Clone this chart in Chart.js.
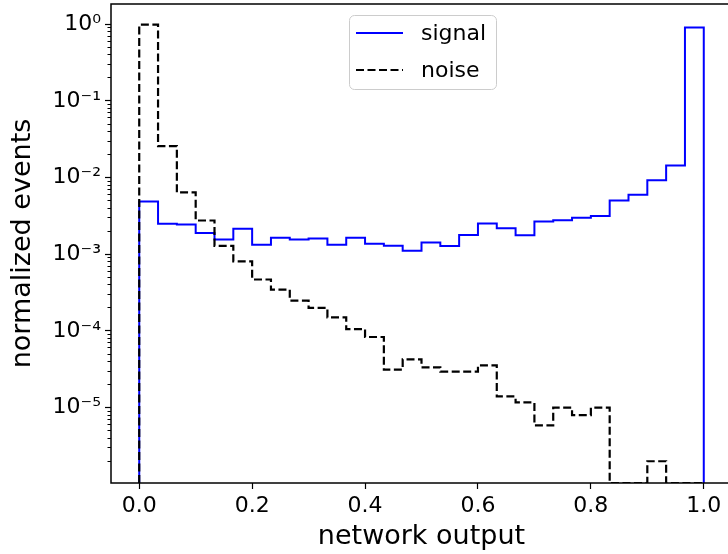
<!DOCTYPE html>
<html>
<head>
<meta charset="utf-8">
<script src="https://cdn.jsdelivr.net/npm/chart.js@4/dist/chart.umd.min.js"></script>
<style>
    body { margin: 0; background: #fff; overflow: hidden; width: 728px; height: 554px; }
    #wrap { width: 740px; height: 554px; }
</style>
</head>
<body>
<div id="wrap"><canvas id="histChart"></canvas></div>
<script>
// histogram contents, 30 bins over [0, 1]
var binCount = 30;
var signalValues = [4.9e-3, 2.5e-3, 2.45e-3, 1.9e-3, 1.56e-3, 2.15e-3, 1.33e-3, 1.64e-3, 1.56e-3, 1.61e-3,
    1.33e-3, 1.64e-3, 1.37e-3, 1.29e-3, 1.11e-3, 1.43e-3, 1.28e-3, 1.79e-3, 2.52e-3, 2.19e-3,
    1.77e-3, 2.68e-3, 2.79e-3, 2.99e-3, 3.17e-3, 5.04e-3, 5.97e-3, 9.27e-3, 1.44e-2, 0.91];
var noiseValues = [0.99, 2.58e-2, 6.41e-3, 2.76e-3, 1.29e-3, 8.1e-4, 4.69e-4, 3.47e-4, 2.49e-4, 2.0e-4,
    1.5e-4, 1.06e-4, 8.35e-5, 3.13e-5, 4.27e-5, 3.36e-5, 2.95e-5, 2.95e-5, 3.56e-5, 1.4e-5,
    1.17e-5, 5.87e-6, 1.0e-5, 8.0e-6, 1.0e-5, 0, 0, 2.0e-6, 0, 0];
var seriesLabels = ['signal', 'noise'];
var xTicks = [0, 0.2, 0.4, 0.6, 0.8, 1.0];
var yTicks = [1e-5, 1e-4, 1e-3, 1e-2, 1e-1, 1];
var yTickLabels = ['10\u207B\u2075', '10\u207B\u2074', '10\u207B\u00B3', '10\u207B\u00B2', '10\u207B\u00B9', '10\u2070'];
var yMinorTicks = [];
[1e-6, 1e-5, 1e-4, 1e-3, 1e-2, 1e-1, 1].forEach(d => {
    for (let m = 2; m <= 9; m++) yMinorTicks.push(m * d);
});

var yMin = 1.04e-6, yMax = 1.84;
var font = 'DejaVu Sans';

// outline of a step histogram, empty bins drop to the axis floor
function stepOutline(values) {
    let pts = [{ x: 0, y: yMin }];
    values.forEach((v, i) => pts.push({ x: i / binCount, y: v > 0 ? v : yMin }));
    pts.push({ x: 1, y: yMin });
    return pts;
}

function noEdgePadding(scale) {
    scale.paddingTop = 0;
    scale.paddingBottom = 0;
    scale.paddingLeft = 0;
    scale.paddingRight = 0;
}

var frame = {
    id: 'frame',
    afterDatasetsDraw: function (chart) {
        let a = chart.chartArea, ctx = chart.ctx;
        ctx.save();
        ctx.strokeStyle = '#000';
        ctx.lineWidth = 1.5;
        ctx.strokeRect(a.left, a.top, a.right - a.left, a.bottom - a.top);
        ctx.restore();
    }
};

var boxLegend = {
    id: 'boxLegend',
    afterDraw: function (chart) {
        let ctx = chart.ctx;
        let x = 349, y = 15, w = 147, h = 74, r = 5;
        ctx.save();
        ctx.beginPath();
        ctx.roundRect(x + 0.5, y + 0.5, w, h, r);
        ctx.fillStyle = 'rgba(255,255,255,0.8)';
        ctx.fill();
        ctx.strokeStyle = '#cccccc';
        ctx.lineWidth = 1;
        ctx.stroke();
        ctx.font = '22px "' + font + '"';
        ctx.textBaseline = 'middle';
        chart.data.datasets.forEach((ds, i) => {
            let ly = 33 + i * 37;
            ctx.beginPath();
            ctx.setLineDash(ds.borderDash || []);
            ctx.strokeStyle = ds.borderColor;
            ctx.lineWidth = ds.borderWidth;
            ctx.moveTo(356, ly);
            ctx.lineTo(403, ly);
            ctx.stroke();
            ctx.setLineDash([]);
            ctx.fillStyle = '#000';
            ctx.fillText(ds.label, 421, ly + 1);
        });
        ctx.restore();
    }
};

var ctx = document.getElementById('histChart');
var histChart = new Chart(ctx, {
    type: 'line',
    data: {
        datasets: [
            {
                label: seriesLabels[0],
                data: stepOutline(signalValues),
                borderColor: '#0000ff',
                borderWidth: 2,
                stepped: 'before',
                pointRadius: 0,
                fill: false,
                order: 1,
                yAxisID: 'y'
            },
            {
                label: seriesLabels[1],
                data: stepOutline(noiseValues),
                borderColor: '#000000',
                borderWidth: 2.2,
                borderDash: [8, 3.5],
                stepped: 'before',
                pointRadius: 0,
                fill: false,
                order: 0,
                yAxisID: 'y'
            }
        ]
    },
    options: {
        responsive: true,
        maintainAspectRatio: false,
        animation: false,
        layout: { padding: { top: 4, right: 8, left: 0, bottom: 0 } },
        plugins: {
            legend: { display: false },
            tooltip: { enabled: false }
        },
        scales: {
            x: {
                type: 'linear',
                min: -0.05,
                max: 1.05,
                afterBuildTicks: scale => { scale.ticks = xTicks.map(v => ({ value: v })); },
                afterFit: scale => { scale.height = 71; noEdgePadding(scale); },
                border: { display: false },
                grid: { drawOnChartArea: false, drawTicks: true, tickLength: 6, tickColor: '#000', tickWidth: 1.2 },
                ticks: {
                    color: '#000',
                    padding: 4,
                    maxRotation: 0,
                    font: { family: font, size: 22 },
                    callback: v => v.toFixed(1)
                },
                title: {
                    display: true,
                    text: 'network output',
                    color: '#000',
                    font: { family: font, size: 27 },
                    padding: { top: 0, bottom: 1 }
                }
            },
            y: {
                type: 'logarithmic',
                position: 'left',
                weight: 1,
                min: yMin,
                max: yMax,
                afterBuildTicks: scale => { scale.ticks = yTicks.map(v => ({ value: v })); },
                afterFit: scale => { scale.width = 111; noEdgePadding(scale); },
                border: { display: false },
                grid: { drawOnChartArea: false, drawTicks: true, tickLength: 6, tickColor: '#000', tickWidth: 1.2 },
                ticks: {
                    color: '#000',
                    padding: 4,
                    font: { family: font, size: 22 },
                    callback: (v, i) => yTickLabels[yTicks.indexOf(v)] || ''
                },
                title: {
                    display: true,
                    text: 'normalized events',
                    color: '#000',
                    font: { family: font, size: 27 },
                    padding: { top: 7, bottom: 0 }
                }
            },
            yMinor: {
                type: 'logarithmic',
                position: 'left',
                weight: 0,
                min: yMin,
                max: yMax,
                afterBuildTicks: scale => { scale.ticks = yMinorTicks.filter(v => v > yMin && v < yMax).map(v => ({ value: v })); },
                afterFit: scale => { scale.width = 0; noEdgePadding(scale); },
                border: { display: false },
                grid: { drawOnChartArea: false, drawTicks: true, tickLength: 3.5, tickColor: '#000', tickWidth: 1 },
                ticks: { display: false }
            }
        }
    },
    plugins: [frame, boxLegend]
});
</script>
</body>
</html>
